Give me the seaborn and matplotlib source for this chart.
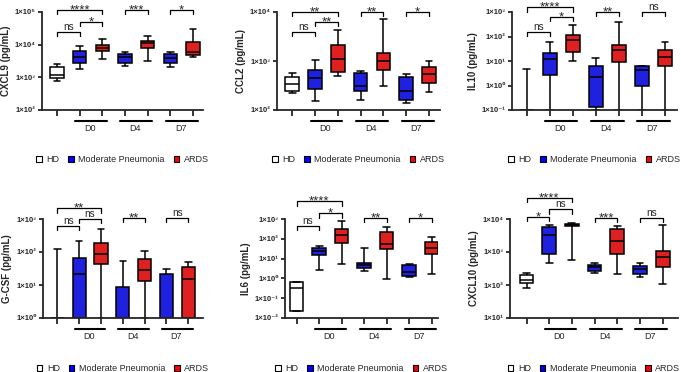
import matplotlib
matplotlib.use("Agg")
import matplotlib.pyplot as plt
import matplotlib.transforms as mtransforms
from matplotlib.patches import Patch
from matplotlib.ticker import NullLocator
import pandas as pd
import seaborn as sns

sns.set_style("white")
plt.rcParams["font.family"] = ["Liberation Sans", "DejaVu Sans"]

slots = ["HD", "MP D0", "ARDS D0", "MP D4", "ARDS D4", "MP D7", "ARDS D7"]
slot_group = ["HD", "Moderate Pneumonia", "ARDS",
              "Moderate Pneumonia", "ARDS", "Moderate Pneumonia", "ARDS"]
groups = ["HD", "Moderate Pneumonia", "ARDS"]
colors = {"HD": "white", "Moderate Pneumonia": "#0000FF", "ARDS": "#FF0000"}
days = ["D0", "D4", "D7"]

# min, q1, median, q3, max for each box
cxcl9 = [[750, 950, 1200, 2000, 2600], [1800, 2700, 4050, 6500, 9300],
         [3700, 6500, 7800, 9900, 14800], [2250, 2700, 4150, 5300, 5900],
         [3250, 7800, 11200, 13200, 18700], [2050, 2700, 3900, 5150, 5800],
         [4100, 4900, 5800, 11700, 30000]]
ccl2 = [[226, 250, 340, 480, 565], [153, 265, 445, 660, 1060],
        [505, 610, 1090, 2080, 4200], [160, 250, 310, 580, 630],
        [310, 660, 990, 1490, 7300], [140, 160, 250, 465, 545],
        [237, 360, 545, 770, 980]]
il10 = [[0.1, 0.1, 0.1, 0.1, 4.5], [0.1, 2.6, 12, 21, 58],
        [10, 23, 70, 118, 300], [0.1, 0.13, 2.3, 6.3, 13],
        [0.1, 8.7, 29, 43, 380], [0.1, 0.96, 4.4, 6, 6.5],
        [0.1, 6.5, 15, 29, 57]]
gcsf = [[1, 1, 1, 1, 122], [1, 1, 21, 65, 220],
        [1, 42, 86, 185, 500], [1, 1, 1, 8.6, 54],
        [1, 13, 28.5, 60, 108], [1, 1, 1, 22, 31],
        [1, 1, 15, 35, 51]]
il6 = [[0.022, 0.022, 0.32, 0.63, 0.63], [2.8, 14.7, 23.6, 35, 45],
       [5.1, 59, 157, 315, 820], [2.3, 3.4, 4.5, 5.7, 36],
       [0.93, 30, 52, 233, 390], [1.23, 1.38, 2.2, 5, 5.1],
       [1.7, 18, 35, 66, 129]]
cxcl10 = [[82, 112, 141, 195, 236], [455, 860, 3330, 5600, 6600],
          [575, 6000, 6700, 7100, 7600], [236, 265, 360, 415, 455],
          [210, 860, 2200, 4880, 6000], [178, 210, 312, 375, 475],
          [104, 340, 710, 1070, 6700]]

panels = [
    ("CXCL9 (pg/mL)", cxcl9, (2, 5),
     [(0, 1, "ns", 0.80), (1, 2, "*", 0.90), (0, 2, "****", 1.02),
      (3, 4, "***", 1.02), (5, 6, "*", 1.02)]),
    ("CCL2 (pg/mL)", ccl2, (2, 4),
     [(0, 1, "ns", 0.80), (1, 2, "**", 0.90), (0, 2, "**", 1.0),
      (3, 4, "**", 1.0), (5, 6, "*", 1.0)]),
    ("IL10 (pg/mL)", il10, (-1, 3),
     [(0, 1, "ns", 0.80), (1, 2, "*", 0.95), (0, 2, "****", 1.05),
      (3, 4, "**", 1.0), (5, 6, "ns", 1.0)]),
    ("G-CSF (pg/mL)", gcsf, (0, 3),
     [(0, 1, "ns", 0.93), (1, 2, "ns", 1.0), (0, 2, "**", 1.11),
      (3, 4, "**", 1.01), (5, 6, "ns", 1.01)]),
    ("IL6 (pg/mL)", il6, (-2, 3),
     [(0, 1, "ns", 0.93), (1, 2, "*", 1.06), (0, 2, "****", 1.18),
      (3, 4, "**", 1.01), (5, 6, "*", 1.01)]),
    ("CXCL10 (pg/mL)", cxcl10, (1, 4),
     [(0, 1, "*", 1.02), (1, 2, "ns", 1.10), (0, 2, "****", 1.215),
      (3, 4, "***", 1.01), (5, 6, "ns", 1.01)]),
]
# axis left, first box, last box, axis right, top, bottom (pixels)
frames = [(42, 57, 193, 203, 12, 110), (277, 292.3, 429, 440, 12, 110),
          (512, 526.7, 665, 677, 12, 110), (43, 57.3, 188.3, 203, 219, 318),
          (285, 296.7, 431.7, 438, 219, 318), (510, 526.5, 662.7, 678, 219, 318)]

W, H = 681, 372
sup = str.maketrans("-0123456789", "⁻⁰¹²³⁴⁵⁶⁷⁸⁹")

fig = plt.figure(figsize=(W / 100, H / 100), dpi=100)

for (label, data, (lo, hi), brackets), (xl, p0, p6, xr, yt, yb) in zip(panels, frames):
    ax = fig.add_axes([xl / W, (H - yb) / H, (xr - xl) / W, (yb - yt) / H])
    df = pd.DataFrame([(slots[k], slot_group[k], v)
                       for k, box in enumerate(data) for v in box],
                      columns=["slot", "group", "value"])
    sns.boxplot(data=df, x="slot", y="value", hue="group", order=slots,
                hue_order=groups, palette=colors, dodge=False, whis=(0, 100),
                width=0.6, linecolor="black", linewidth=1.1, log_scale=True,
                legend=False, ax=ax)
    step = (p6 - p0) / 6
    ax.set_xlim((xl - p0) / step, 6 + (xr - p6) / step)
    ax.set_ylim(10.0 ** lo, 10.0 ** hi)
    ax.set_yticks([10.0 ** e for e in range(lo, hi + 1)])
    ax.set_yticklabels(["1×10" + str(e).translate(sup) for e in range(lo, hi + 1)],
                       fontsize=5.5, fontweight="bold")
    ax.yaxis.set_minor_locator(NullLocator())
    ax.set_xticks(range(7))
    ax.set_xticklabels([])
    ax.set_xlabel("")
    ax.set_ylabel(label, fontsize=7, fontweight="bold", labelpad=3)
    for s in ["top", "right"]:
        ax.spines[s].set_visible(False)
    for s in ["left", "bottom"]:
        ax.spines[s].set_linewidth(1.3)
    ax.tick_params(axis="both", which="major", direction="out", length=3,
                   width=1.1, color="black", pad=1.5, left=True, bottom=True)
    ax.tick_params(axis="x", length=4)

    trans = mtransforms.blended_transform_factory(ax.transData, ax.transAxes)
    for i, j, txt, y in brackets:
        ax.plot([i, i, j, j], [y - 0.045, y, y, y - 0.045], transform=trans,
                color="black", lw=0.9, clip_on=False)
        if txt == "ns":
            ax.text((i + j) / 2, y + 0.02, txt, transform=trans, ha="center",
                    va="baseline", fontsize=7.2)
        else:
            ax.text((i + j) / 2, y - 0.035, txt, transform=trans, ha="center",
                    va="baseline", fontsize=9.5)
    for k, d in enumerate(days):
        c = 1.5 + 2 * k
        ax.plot([c - 0.7, c + 0.7], [-0.11, -0.11], transform=trans,
                color="black", lw=1.5, clip_on=False)
        ax.text(c - 0.05, -0.19, d, transform=trans, ha="center", va="center",
                fontsize=6.5)

    handles = [Patch(facecolor=colors[g], edgecolor="black", linewidth=0.8,
                     label=g) for g in groups]
    ax.legend(handles=handles, loc="center", bbox_to_anchor=(0.5, -0.51),
              ncol=3, frameon=False, fontsize=6.5, handlelength=0.6,
              handleheight=0.6, handletextpad=0.5, columnspacing=1.0,
              borderpad=0.2)

fig.savefig("out.png", dpi=100)
